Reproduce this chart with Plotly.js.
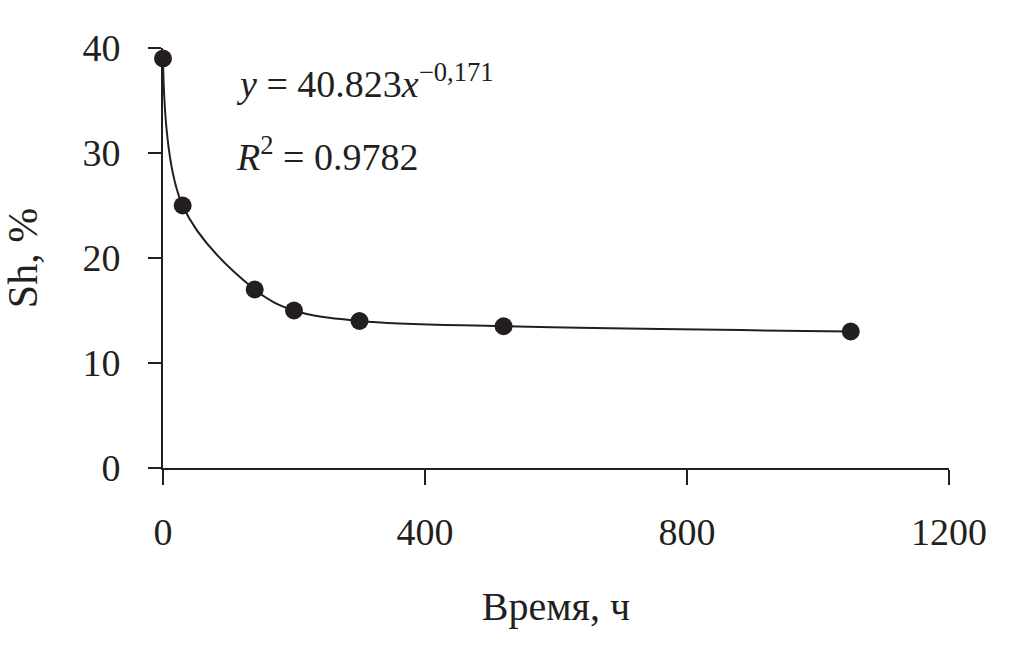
<!DOCTYPE html>
<html><head><meta charset="utf-8">
<script src="https://cdn.plot.ly/plotly-3.0.1.min.js"></script>
<style>body{margin:0;background:#fff}#chart{width:1010px;height:646px}</style>
</head><body><div id="chart"></div>
<script>
const timeHours = [0, 30, 140, 200, 300, 520, 1050];
const shPercent = [39, 25, 17, 15, 14, 13.5, 13];
const xTicks = [0, 400, 800, 1200];
const yTicks = [0, 10, 20, 30, 40];
const xTitle = "Время, ч";
const yTitle = "Sh, %";
const eqText = "<i>y</i> = 40.823<i>x</i><sup>−0,171</sup>";
const r2Text = "<i>R</i><sup>2</sup> = 0.9782";

const ink = "#231f20";
const font = "Times New Roman";

Plotly.newPlot("chart", [{
  x: timeHours, y: shPercent, type: "scatter", mode: "lines+markers",
  line: {color: ink, width: 2, shape: "spline", smoothing: 1},
  marker: {color: ink, size: 18},
  cliponaxis: false, hoverinfo: "none"
}], {
  width: 1010, height: 646,
  margin: {l: 163, r: 61, t: 48, b: 178},
  paper_bgcolor: "#fff", plot_bgcolor: "#fff",
  showlegend: false,
  font: {family: font, color: ink, size: 38},
  xaxis: {
    range: [0, 1200], tickvals: xTicks, ticktext: xTicks.map(String),
    showgrid: false, zeroline: false, showline: true, linecolor: ink, linewidth: 2,
    ticks: "outside", ticklen: 15, tickwidth: 1.5, tickcolor: ink,
    ticklabelstandoff: 14,
    tickfont: {family: font, size: 38, color: ink},
    title: {text: xTitle, font: {family: font, size: 40, color: ink}, standoff: 40}
  },
  yaxis: {
    range: [0, 40], tickvals: yTicks, ticktext: yTicks.map(String),
    showgrid: false, zeroline: false, showline: true, linecolor: ink, linewidth: 2,
    ticks: "outside", ticklen: 13, tickwidth: 1.5, tickcolor: ink,
    ticklabelstandoff: 20,
    tickfont: {family: font, size: 38, color: ink},
    title: {text: yTitle, font: {family: font, size: 42, color: ink}, standoff: 34}
  },
  annotations: [
    {x: 108, y: 36.9, xref: "x", yref: "y", text: eqText, showarrow: false,
     xanchor: "left", yanchor: "middle", font: {family: font, size: 38, color: ink}},
    {x: 108, y: 29.9, xref: "x", yref: "y", text: r2Text, showarrow: false,
     xanchor: "left", yanchor: "middle", font: {family: font, size: 38, color: ink}}
  ]
}, {staticPlot: true});
</script></body></html>
